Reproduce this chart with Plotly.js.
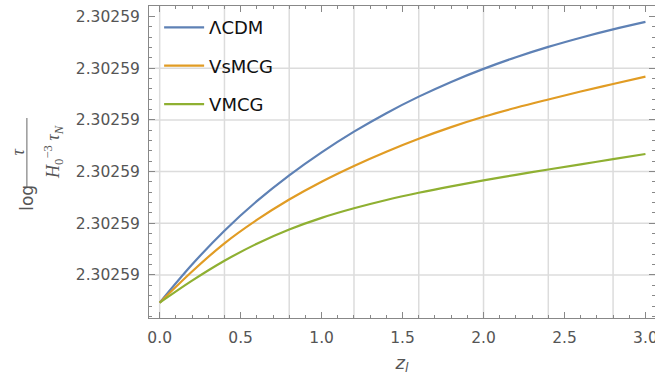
<!DOCTYPE html>
<html>
<head>
<meta charset="utf-8">
<script src="https://cdn.plot.ly/plotly-3.0.1.min.js"></script>
<style>html,body{margin:0;padding:0;background:#fff;}#chart{width:655px;height:381px;}</style>
</head>
<body>
<div id="chart"></div>
<script>
// redshift of the lens
const zl = [0, 0.2, 0.4, 0.6, 0.8, 1.0, 1.2, 1.4, 1.6, 1.8, 2.0, 2.2, 2.4, 2.6, 2.8, 3.0];
// values in units of the (identical-looking) major tick steps
const lcdm  = [-0.536, 0.202, 0.857, 1.427, 1.927, 2.372, 2.772, 3.130, 3.450, 3.735, 3.987, 4.212, 4.412, 4.590, 4.750, 4.895];
const vsmcg = [-0.536, 0.068, 0.613, 1.065, 1.460, 1.805, 2.110, 2.385, 2.635, 2.860, 3.060, 3.235, 3.395, 3.550, 3.695, 3.836];
const vmcg  = [-0.536, -0.110, 0.275, 0.605, 0.880, 1.105, 1.290, 1.450, 1.590, 1.715, 1.830, 1.937, 2.040, 2.140, 2.240, 2.340];
const names = ["ΛCDM", "VsMCG", "VMCG"];
const yTickVals = [0, 1, 2, 3, 4, 5];
const yTickText = ["2.30259", "2.30259", "2.30259", "2.30259", "2.30259", "2.30259"];
const xTickVals = [0, 0.5, 1.0, 1.5, 2.0, 2.5, 3.0];
const xTickText = ["0.0", "0.5", "1.0", "1.5", "2.0", "2.5", "3.0"];
const xGrid = [0, 0.4, 0.8, 1.2, 1.6, 2.0, 2.4, 2.8];
const yGrid = [0, 1, 2, 3, 4];

const colors = ["#5E81B5", "#E19C24", "#8FB032"];
const series = [lcdm, vsmcg, vmcg];
const traces = series.map((s, i) => ({
  x: zl, y: s, name: names[i], type: "scatter", mode: "lines",
  line: {color: colors[i], width: 2.2, shape: "spline", smoothing: 1},
  legendgroup: "g" + i
}));

const shapes = [];
xGrid.forEach(v => shapes.push({type: "line", xref: "x", yref: "paper", x0: v, x1: v, y0: 0, y1: 1,
  line: {color: "#dcdcdc", width: 1.5}, layer: "below"}));
yGrid.forEach(v => shapes.push({type: "line", xref: "paper", yref: "y", x0: 0, x1: 1, y0: v, y1: v,
  line: {color: "#dcdcdc", width: 1.5}, layer: "below"}));
// fraction bar of the y title
shapes.push({type: "line", xref: "paper", yref: "paper", x0: -0.2413, x1: -0.2413, y0: 0.42, y1: 0.641,
  line: {color: "#666", width: 1}});

const sans = "DejaVu Sans, Liberation Sans, Arial, sans-serif";
const serif = "Liberation Serif, Times New Roman, serif";
const tickFont = {family: sans, size: 15.5, color: "#555"};
const layout = {
  width: 655, height: 381,
  margin: {l: 149, r: 0, t: 6, b: 63, pad: 0},
  paper_bgcolor: "#fff", plot_bgcolor: "#fff",
  showlegend: true,
  legend: {x: 0.020, y: 0.99, xanchor: "left", yanchor: "top", traceorder: "grouped", tracegroupgap: 12,
    itemwidth: 40, font: {family: sans, size: 18, color: "#111"}, bgcolor: "rgba(0,0,0,0)"},
  xaxis: {range: [-0.066, 3.059], tickvals: xTickVals, ticktext: xTickText, showgrid: false, zeroline: false,
    ticks: "inside", ticklen: 6, tickwidth: 1, tickcolor: "#888", showline: true, linecolor: "#888", linewidth: 1,
    mirror: "ticks", tickfont: tickFont, ticklabelstandoff: 5, ticklabeloverflow: "allow",
    minor: {ticks: "inside", dtick: 0.1, tick0: 0, ticklen: 3, tickcolor: "#888", showgrid: false},
    title: {text: "<i>z</i><sub><i>l</i></sub>", font: {family: sans, size: 18, color: "#555"}, standoff: 10}},
  yaxis: {range: [-0.832, 5.203], tickvals: yTickVals, ticktext: yTickText, showgrid: false, zeroline: false,
    ticks: "inside", ticklen: 6, tickwidth: 1, tickcolor: "#888", showline: true, linecolor: "#888", linewidth: 1,
    mirror: "ticks", tickfont: tickFont, ticklabelstandoff: 5, ticklabeloverflow: "allow",
    minor: {ticks: "inside", dtick: 0.2, tick0: 0, ticklen: 3, tickcolor: "#888", showgrid: false}},
  shapes: shapes,
  annotations: [
    {text: "log", xref: "paper", yref: "paper", x: -0.2413, y: 0.385, xanchor: "center", yanchor: "middle",
      textangle: -90, showarrow: false, font: {family: sans, size: 17, color: "#555"}},
    {text: "<i>τ</i>", xref: "paper", yref: "paper", x: -0.258, y: 0.532, xanchor: "center", yanchor: "middle",
      textangle: -90, showarrow: false, font: {family: serif, size: 18, color: "#555"}},
    {text: "<i>H</i><sub>0</sub><sup>−3</sup> <i>τ</i><sub><i>N</i></sub>", xref: "paper", yref: "paper",
      x: -0.19, y: 0.532, xanchor: "center", yanchor: "middle",
      textangle: -90, showarrow: false, font: {family: serif, size: 18, color: "#555"}}
  ]
};
Plotly.newPlot("chart", traces, layout, {displayModeBar: false, staticPlot: true});
</script>
</body>
</html>
